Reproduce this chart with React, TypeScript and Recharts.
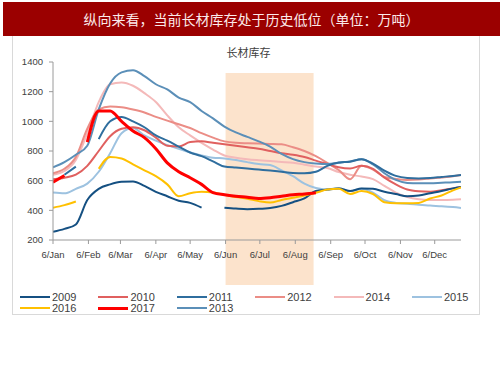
import { LineChart, Line, XAxis, YAxis, ReferenceArea } from "recharts";

// sample days (day of year), roughly every 10 days
const days = [6, 16, 26, 36, 46, 56, 66, 76, 86, 96, 106, 116, 126, 136, 146, 156, 166, 176, 186, 196, 206, 216, 226, 236, 246, 256, 266, 276, 286, 296, 306, 316, 326, 336, 346, 356, 363];
const monthTicks = [6, 37, 65, 96, 126, 157, 187, 218, 249, 279, 310, 340];
const monthLabels = ["6/Jan", "6/Feb", "6/Mar", "6/Apr", "6/May", "6/Jun", "6/Jul", "6/Aug", "6/Sep", "6/Oct", "6/Nov", "6/Dec"];
const yTicks = [200, 400, 600, 800, 1000, 1200, 1400];
const shadeDays = [157, 234];

const s2009 = [255, 275, 305, 470, 545, 575, 592, 595, 565, 525, 495, 465, 450, 418, null, 418, 412, 408, 410, 416, 430, 455, 480, 530, 540, 548, 530, 548, 545, 525, 510, 495, 500, 515, 530, 548, 558];
const s2010 = [610, 620, 640, 700, 800, 900, 950, 960, 940, 890, 835, 830, 860, 865, 855, 845, 835, 825, 815, 800, 785, 775, 760, 735, 712, 690, 682, 700, 680, 620, 575, 540, 528, 525, 535, 548, 557];
const s2011 = [null, 640, 695, null, 880, 1000, 1030, 1000, 960, 905, 870, 830, 790, 765, 730, 695, 688, 682, 675, 668, 660, 652, 650, 660, 700, 722, 728, 745, 715, 668, 632, 618, 615, 618, 625, 632, 638];
const s2012 = [650, 680, 760, 950, 1080, 1100, 1095, 1080, 1060, 1030, 1005, 980, 955, 920, 890, 865, 855, 852, 850, 848, 845, 825, 800, 765, 720, 672, 610, 700, 675, 625, 612, 605, 608, 615, 622, 630, 638];
const s2014 = [640, 665, 740, 920, 1130, 1250, 1262, 1240, 1190, 1130, 1040, 960, 905, 855, 810, 770, 755, 745, 738, 732, 726, 720, 708, 695, 685, 658, 640, 628, 610, 565, 520, 490, 475, 470, 470, 472, 475];
const s2015 = [520, 515, 545, 580, 660, 785, 920, 955, 905, 870, 840, 815, 790, 770, 755, 750, 740, 725, 712, 705, 670, 630, 580, 550, 540, 550, 530, 545, 520, 468, 450, 445, 438, 432, 428, 422, 416];
const s2016 = [418, 435, 460, null, 680, 760, 750, 710, 670, 630, 575, 495, 515, 525, 520, 505, 490, 478, 462, 452, 470, 485, 500, 518, 540, 545, 510, 530, 510, 455, 448, 448, 450, 480, 500, 535, 555];
const s2017 = [590, 635, null, 860, 1070, 1070, 1000, 935, 890, 815, 720, 660, 620, 575, 520, 505, 495, 488, 480, 485, 495, 505, 510, 518, null, null, null, null, null, null, null, null, null, null, null, null, null];
const s2013 = [690, 725, 775, 835, 1080, 1255, 1330, 1345, 1305, 1250, 1215, 1160, 1130, 1070, 1020, 965, 925, 895, 865, 830, 780, 745, 725, 716, 712, 720, 730, 745, 710, 650, 605, 585, 582, 583, 586, 589, 592];

// draw order (last on top)
const SERIES = [
  { key: "y2015", name: "2015", values: s2015, color: "#9dc2e0", width: 2 },
  { key: "y2014", name: "2014", values: s2014, color: "#f4b9b9", width: 2 },
  { key: "y2012", name: "2012", values: s2012, color: "#eb8d86", width: 2 },
  { key: "y2010", name: "2010", values: s2010, color: "#e0605f", width: 2 },
  { key: "y2013", name: "2013", values: s2013, color: "#5b8fb8", width: 2 },
  { key: "y2011", name: "2011", values: s2011, color: "#2f6e9e", width: 2 },
  { key: "y2009", name: "2009", values: s2009, color: "#155082", width: 2 },
  { key: "y2016", name: "2016", values: s2016, color: "#ffc000", width: 2 },
  { key: "y2017", name: "2017", values: s2017, color: "#ff0000", width: 3 },
];
const legendOrder = ["2009", "2010", "2011", "2012", "2014", "2015", "2016", "2017", "2013"];

const data = days.map((day, i) => {
  const row: Record<string, number | null> = { day };
  SERIES.forEach((s) => (row[s.key] = s.values[i]));
  return row;
});

const tickStyle = { fontSize: 9.5, fill: "#404040", fontFamily: "Liberation Sans, Arial, sans-serif" };

function LegendBox() {
  return (
    <div style={{ position: "absolute", left: 0, top: 290, width: 503, height: 24, fontFamily: "Liberation Sans, Arial, sans-serif", fontSize: 11, color: "#404040" }}>
      {legendOrder.map((name, i) => {
        const s = SERIES.find((x) => x.name === name)!;
        const col = i % 6;
        const row = Math.floor(i / 6);
        return (
          <div key={name} style={{ position: "absolute", left: 20 + col * 78.4, top: row * 11, height: 12, lineHeight: "12px", whiteSpace: "nowrap" }}>
            <span style={{ display: "inline-block", width: 30, height: s.width > 2 ? 3 : 2, background: s.color, verticalAlign: "middle", marginRight: 2 }} />
            <span style={{ verticalAlign: "middle" }}>{name}</span>
          </div>
        );
      })}
    </div>
  );
}

export default function App() {
  return (
    <div style={{ position: "relative", width: 503, height: 378, background: "#fff", overflow: "hidden" }}>
      <style>{`body{margin:0}`}</style>
      <div style={{ position: "absolute", left: 12, top: 36, width: 466, height: 278, borderLeft: "1px solid #d9d9d9", borderRight: "1px solid #d9d9d9", borderBottom: "1px solid #d9d9d9" }} />
      <div style={{ position: "absolute", left: 3, top: 2, width: 497, height: 34, background: "#9b0000", color: "#fbeaea", fontFamily: "Noto Sans CJK SC, sans-serif", fontSize: 14, lineHeight: "34px", textAlign: "center" }}>
        纵向来看，当前长材库存处于历史低位（单位：万吨）
      </div>
      <div style={{ position: "absolute", left: 0, top: 44, width: 503, textAlign: "center", fontFamily: "Noto Sans CJK SC, sans-serif", fontSize: 11, color: "#404040", paddingRight: 6, boxSizing: "border-box" }}>
        长材库存
      </div>
      <div style={{ position: "absolute", left: 0, top: 0 }}>
        <LineChart width={503} height={378} data={data} margin={{ top: 62, right: 42, left: 13, bottom: 108 }}>
          <XAxis
            dataKey="day"
            type="number"
            domain={[6, 363]}
            ticks={monthTicks}
            tickFormatter={(v: number) => monthLabels[monthTicks.indexOf(v)]}
            tick={tickStyle}
            stroke="#9a9a9a"
            tickSize={4}
            tickMargin={7}
            height={30}
            allowDataOverflow
          />
          <YAxis
            type="number"
            domain={[200, 1400]}
            ticks={yTicks}
            tick={tickStyle}
            stroke="#9a9a9a"
            tickSize={4}
            tickMargin={6}
            width={40}
            allowDataOverflow
          />
          {SERIES.map((s) => (
            <Line
              key={s.key}
              dataKey={s.key}
              name={s.name}
              type="monotone"
              stroke={s.color}
              strokeWidth={s.width}
              dot={false}
              activeDot={false}
              connectNulls={false}
              isAnimationActive={false}
            />
          ))}
          <ReferenceArea x1={shadeDays[0]} x2={shadeDays[1]} y1={-103} y2={1326} fill="#f9c89a" fillOpacity={0.5} stroke="none" ifOverflow="visible" />
        </LineChart>
      </div>
      <LegendBox />
    </div>
  );
}
